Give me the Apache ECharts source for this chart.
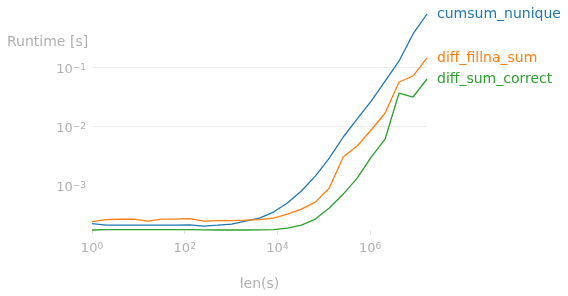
<!DOCTYPE html>
<html>
<head>
<meta charset="utf-8">
<script src="https://cdn.jsdelivr.net/npm/echarts@6/dist/echarts.min.js"></script>
<style>html,body{margin:0;padding:0;background:#fff}#c{width:568px;height:296px}</style>
</head>
<body>
<div id="c"></div>
<script>
// x: len(s) = 2^0 .. 2^24
const lengths = [1,2,4,8,16,32,64,128,256,512,1024,2048,4096,8192,16384,32768,65536,131072,262144,524288,1048576,2097152,4194304,8388608,16777216];
const seriesNames = ['cumsum_nunique','diff_fillna_sum','diff_sum_correct'];
const cumsumNunique = [2.33e-4,2.20e-4,2.20e-4,2.20e-4,2.20e-4,2.20e-4,2.20e-4,2.22e-4,2.12e-4,2.20e-4,2.29e-4,2.57e-4,2.89e-4,3.65e-4,5.18e-4,8.24e-4,1.47e-3,2.96e-3,6.70e-3,1.35e-2,2.70e-2,5.87e-2,0.128,0.364,0.79];
const diffFillnaSum = [2.52e-4,2.73e-4,2.76e-4,2.78e-4,2.57e-4,2.78e-4,2.78e-4,2.83e-4,2.57e-4,2.62e-4,2.62e-4,2.67e-4,2.73e-4,2.89e-4,3.37e-4,4.09e-4,5.37e-4,9.25e-4,3.08e-3,4.72e-3,8.79e-3,1.70e-2,5.65e-2,7.13e-2,0.144];
const diffSumCorrect = [1.82e-4,1.85e-4,1.85e-4,1.85e-4,1.85e-4,1.85e-4,1.85e-4,1.85e-4,1.83e-4,1.82e-4,1.82e-4,1.82e-4,1.83e-4,1.85e-4,1.96e-4,2.20e-4,2.78e-4,4.26e-4,7.33e-4,1.36e-3,3.08e-3,6.19e-3,3.69e-2,3.16e-2,6.35e-2];
const yGridValues = [1e-3, 1e-2, 1e-1];
const xMin = 1, xMax = 16777216;
const yMin = 1.75e-4, yMax = 0.79;
const colors = ['#1f77b4','#ff7f0e','#2ca02c'];
const allValues = [cumsumNunique, diffFillnaSum, diffSumCorrect];

const FONT = 'DejaVu Sans';
const GREY = '#b0b0b0';
function supFmt(v){
  const e = Math.round(Math.log10(v));
  return '{b|10}{s|' + String(e).replace('-','\u2212') + '}';
}
const rich = {
  b:{fontSize:13, color:GREY, fontFamily:FONT, lineHeight:13},
  s:{fontSize:9, color:GREY, fontFamily:FONT, lineHeight:9, verticalAlign:'top'}
};

const chart = echarts.init(document.getElementById('c'));
chart.setOption({
  animation:false,
  color:colors,
  title:{text:'Runtime [s]', left:2, top:30, textStyle:{fontSize:14, fontWeight:'normal', color:GREY, fontFamily:FONT}},
  grid:{left:92, right:141, top:14, bottom:65, containLabel:false, outerBoundsMode:'none'},
  xAxis:{
    type:'log', logBase:10, min:xMin, max:xMax, interval:2,
    name:'len(s)', nameLocation:'middle', nameGap:46,
    nameTextStyle:{fontSize:14, color:GREY, fontFamily:FONT},
    axisLine:{show:false},
    axisTick:{show:true, length:3, lineStyle:{color:'#dddddd'}},
    splitLine:{show:false},
    axisLabel:{formatter:supFmt, rich:rich, margin:11, showMaxLabel:false, showMinLabel:true}
  },
  yAxis:{
    type:'log', logBase:10, min:yMin, max:yMax,
    axisLine:{show:false},
    axisTick:{show:false},
    splitLine:{show:false},
    axisLabel:{formatter:supFmt, rich:rich, margin:6, padding:[4,0,0,0], showMinLabel:false, showMaxLabel:false}
  },
  series: seriesNames.map((n,i)=>{
    const s = {
      name:n, type:'line', showSymbol:false, symbol:'none', z:3,
      data: lengths.map((x,j)=>[x, allValues[i][j]]),
      lineStyle:{width:1.3, color:colors[i]},
      endLabel:{show:true, formatter:'{a}', color:colors[i], fontSize:14, fontFamily:FONT, distance:10}
    };
    if (i === 0) {
      s.markLine = {
        silent:true, symbol:'none', z:1, animation:false,
        label:{show:false},
        lineStyle:{color:'#ececec', width:1.2, type:'solid'},
        data: yGridValues.map(v=>({yAxis:v}))
      };
    }
    return s;
  })
});
</script>
</body>
</html>
